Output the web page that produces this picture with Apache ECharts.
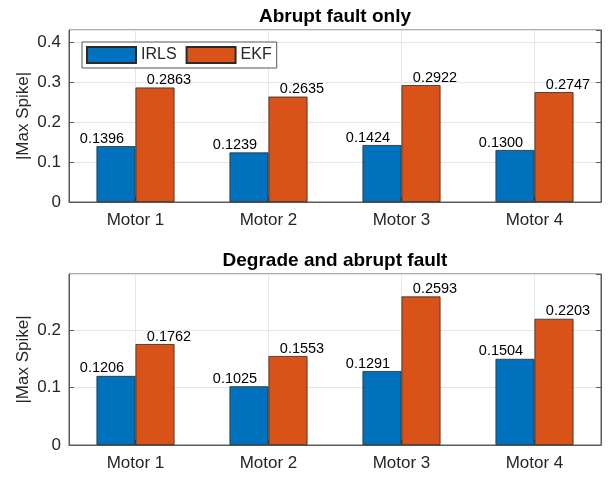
<!DOCTYPE html>
<html>
<head>
<meta charset="utf-8">
<script src="https://cdn.jsdelivr.net/npm/echarts@6/dist/echarts.min.js"></script>
<style>
  html, body { margin: 0; padding: 0; background: #fff; }
  #chart { width: 608px; height: 480px; }
</style>
</head>
<body>
<div id="chart"></div>
<script>
// Max spike magnitude per motor, two estimators, two fault scenarios
const categories = ['Motor 1', 'Motor 2', 'Motor 3', 'Motor 4'];
const methodNames = ['IRLS', 'EKF'];
const panelTitles = ['Abrupt fault only', 'Degrade and abrupt fault'];

const abruptIRLS = [0.1396, 0.1239, 0.1424, 0.1300];
const abruptEKF = [0.2863, 0.2635, 0.2922, 0.2747];
const degradeIRLS = [0.1206, 0.1025, 0.1291, 0.1504];
const degradeEKF = [0.1762, 0.1553, 0.2593, 0.2203];

const yMaxTop = 0.43;
const yMaxBottom = 0.2985;
const yStep = 0.1;

const FONT = '"Liberation Sans", Arial, Helvetica, sans-serif';
const TEXT = '#262626';
const BOX = '#5a5a5a';
const GRID_LINE = '#e6e6e6';
const BLUE = '#0072BD';
const ORANGE = '#D95319';

const chart = echarts.init(document.getElementById('chart'), null, { renderer: 'canvas' });

// Helper axis points: 9 evenly spaced slots, odd ones sit on category centres
const helperSlots = ['0', '1', '2', '3', '4', '5', '6', '7', '8'];

function tickLabel(v) {
  const k = v / yStep;
  if (Math.abs(k - Math.round(k)) > 1e-6) return '';
  return v === 0 ? '0' : v.toFixed(1);
}

const grids = [
  { left: 69, right: 7, top: 30, height: 172, show: true, borderColor: BOX, borderWidth: 1, backgroundColor: '#fff' },
  { left: 69, right: 7, top: 274, height: 171, show: true, borderColor: BOX, borderWidth: 1, backgroundColor: '#fff' }
];

const xAxes = [];
const yAxes = [];
[0, 1].forEach(function (g) {
  xAxes.push({
    type: 'category', gridIndex: g, data: categories,
    axisLine: { lineStyle: { color: BOX, width: 1 } },
    axisTick: { show: true, inside: true, alignWithLabel: true, length: 5, lineStyle: { color: BOX } },
    axisLabel: { color: TEXT, fontFamily: FONT, fontSize: 17, margin: 10 },
    splitLine: { show: false }
  });
  xAxes.push({
    type: 'category', gridIndex: g, data: helperSlots, boundaryGap: false, position: 'top',
    axisLine: { show: false }, axisTick: { show: false }, axisLabel: { show: false },
    splitLine: {
      show: true,
      interval: function (i) { return i % 2 === 1; },
      lineStyle: { color: GRID_LINE, width: 1 }
    }
  });
  const yMax = g === 0 ? yMaxTop : yMaxBottom;
  yAxes.push({
    type: 'value', gridIndex: g, min: 0, max: yMax, interval: yStep,
    name: '|Max Spike|', nameLocation: 'middle', nameGap: 37, nameMoveOverlap: false,
    nameTextStyle: { color: TEXT, fontFamily: FONT, fontSize: 17 },
    axisLine: { show: true, lineStyle: { color: BOX, width: 1 } },
    axisTick: { show: true, inside: true, length: 5, lineStyle: { color: BOX } },
    axisLabel: { color: TEXT, fontFamily: FONT, fontSize: 17, margin: 8, formatter: tickLabel, showMaxLabel: false },
    splitLine: { show: true, lineStyle: { color: GRID_LINE, width: 1 } }
  });
  yAxes.push({
    type: 'value', gridIndex: g, min: 0, max: yMax, interval: yStep, position: 'right',
    axisLine: { show: true, lineStyle: { color: BOX, width: 1 } },
    axisTick: { show: true, inside: true, length: 5, lineStyle: { color: BOX } },
    axisLabel: { show: false },
    splitLine: { show: false }
  });
});

function barSeries(name, values, g, color, dx) {
  return {
    name: name, type: 'bar', xAxisIndex: g * 2, yAxisIndex: g * 2,
    data: values, barWidth: 39, barGap: '0%',
    itemStyle: { color: color, borderColor: '#2a2a2a', borderWidth: 0.8 },
    label: {
      show: true, position: 'top', distance: 0, offset: [dx, 0],
      color: '#000', fontFamily: FONT, fontSize: 14.5,
      formatter: function (p) { return p.value.toFixed(4); }
    },
    emphasis: { disabled: true }
  };
}

const option = {
  animation: false,
  backgroundColor: '#fff',
  title: panelTitles.map(function (t, i) {
    return {
      text: t, left: 335, textAlign: 'center', top: i === 0 ? 7 : 251, padding: 0,
      textStyle: { color: '#000', fontFamily: FONT, fontSize: 19, fontWeight: 'bold' }
    };
  }),
  legend: {
    data: methodNames, left: 82, top: 42, orient: 'horizontal',
    icon: 'rect',
    itemWidth: 49, itemHeight: 16, itemGap: 9,
    padding: [4, 5, 4, 4],
    borderColor: '#555', borderWidth: 1, backgroundColor: '#fff',
    textStyle: { color: TEXT, fontFamily: FONT, fontSize: 16 },
    selectedMode: false
  },
  grid: grids,
  xAxis: xAxes,
  yAxis: yAxes,
  series: [
    barSeries(methodNames[0], abruptIRLS, 0, BLUE, -14),
    barSeries(methodNames[1], abruptEKF, 0, ORANGE, 14),
    barSeries(methodNames[0], degradeIRLS, 1, BLUE, -14),
    barSeries(methodNames[1], degradeEKF, 1, ORANGE, 14)
  ]
};

chart.setOption(option);
</script>
</body>
</html>
